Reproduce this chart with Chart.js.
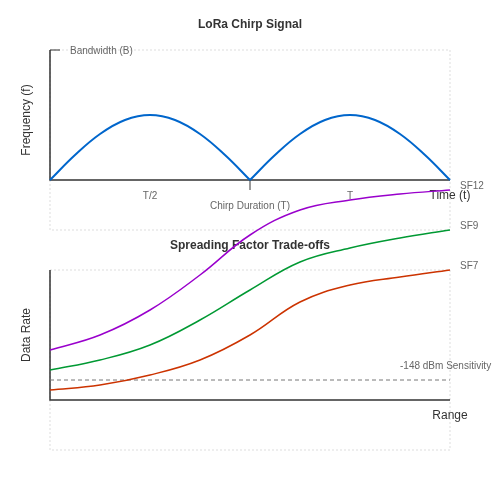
<!DOCTYPE html>
<html>
<head>
<script src="https://cdn.jsdelivr.net/npm/chart.js@4"></script>
<style>
  body { margin: 0; background: #fff; }
  .wrap { position: absolute; left: 0; top: 0; width: 500px; height: 500px; }
</style>
</head>
<body>
<div class="wrap"><canvas id="chirp"></canvas></div>
<div class="wrap"><canvas id="sf"></canvas></div>
<script>
// Top panel: chirp frequency over time (time in units of T)
const chirpTime = [0, 0.0625, 0.125, 0.1875, 0.25, 0.3125, 0.375, 0.4375, 0.5];
const chirpFreq = [0, 25, 46, 60, 65, 60, 46, 25, 0];

// Bottom panel: data rate vs range per spreading factor
const rangeX = [0, 1.25, 2.5, 3.75, 5, 6.25, 7.5, 8.75, 10];
const sf12Rate = [50, 65, 90, 125, 165, 190, 200, 206, 210];
const sf9Rate = [30, 40, 55, 80, 110, 138, 152, 162, 170];
const sf7Rate = [10, 15, 25, 40, 65, 98, 115, 123, 130];
const sensitivity = 20;

const FONT = "'Liberation Sans', Arial, sans-serif";
const GREY = "#666";

function text(ctx, s, x, y, opts = {}) {
    ctx.save();
    ctx.font = opts.font || ("11px " + FONT);
    ctx.fillStyle = opts.color || GREY;
    ctx.textAlign = opts.align || "center";
    ctx.textBaseline = "middle";
    if (opts.rotate) {
        ctx.translate(x, y);
        ctx.rotate(opts.rotate);
        ctx.fillText(s, 0, 0);
    } else {
        ctx.fillText(s, x, y);
    }
    ctx.restore();
}

function frame(chart) {
    const { ctx, chartArea: a, scales } = chart;
    const y0 = scales.y.getPixelForValue(0);
    ctx.save();
    ctx.strokeStyle = "#ddd";
    ctx.setLineDash([2, 2]);
    ctx.lineWidth = 1;
    ctx.strokeRect(a.left, a.top, a.right - a.left, a.bottom - a.top);
    ctx.setLineDash([]);
    ctx.strokeStyle = "#333";
    ctx.lineWidth = 1.5;
    ctx.beginPath();
    ctx.moveTo(a.left, a.top);
    ctx.lineTo(a.left, y0);
    ctx.lineTo(a.right, y0);
    ctx.stroke();
    ctx.restore();
    return y0;
}

const chirpPlugin = {
    id: "chirpDecor",
    beforeDatasetsDraw(chart) {
        const { ctx, chartArea: a, scales } = chart;
        const y0 = frame(chart);
        ctx.save();
        ctx.strokeStyle = "#333";
        ctx.beginPath();
        ctx.moveTo(a.left, a.top); ctx.lineTo(a.left + 10, a.top);
        const xm = scales.x.getPixelForValue(0.5);
        ctx.moveTo(xm, y0); ctx.lineTo(xm, y0 + 10);
        ctx.stroke();
        ctx.restore();
        text(ctx, "LoRa Chirp Signal", 250, 25, { font: "bold 12px " + FONT, color: "#333" });
        text(ctx, "Bandwidth (B)", a.left + 20, a.top + 1, { align: "left", font: "10px " + FONT });
        text(ctx, "T/2", scales.x.getPixelForValue(0.25), y0 + 16, { font: "10px " + FONT });
        text(ctx, "T", scales.x.getPixelForValue(0.75), y0 + 16, { font: "10px " + FONT });
        text(ctx, "Chirp Duration (T)", xm, y0 + 26, { font: "10px " + FONT });
        text(ctx, "Time (t)", a.right, y0 + 16, { font: "12px " + FONT, color: "#333" });
        text(ctx, "Frequency (f)", 27, 120, { font: "12px " + FONT, color: "#333", rotate: -Math.PI / 2 });
    }
};

const sfPlugin = {
    id: "sfDecor",
    beforeDatasetsDraw(chart) {
        const { ctx, chartArea: a, scales } = chart;
        const y0 = frame(chart);
        const ys = scales.y.getPixelForValue(sensitivity);
        ctx.save();
        ctx.strokeStyle = "#777";
        ctx.setLineDash([4, 3]);
        ctx.beginPath();
        ctx.moveTo(a.left, ys); ctx.lineTo(a.right, ys);
        ctx.stroke();
        ctx.restore();
        text(ctx, "Spreading Factor Trade-offs", 250, 246, { font: "bold 12px " + FONT, color: "#333" });
        text(ctx, "-148 dBm Sensitivity", a.right - 50, ys - 14, { align: "left", font: "10px " + FONT });
        text(ctx, "Range", a.right, y0 + 16, { font: "12px " + FONT, color: "#333" });
        text(ctx, "Data Rate", 27, 335, { font: "12px " + FONT, color: "#333", rotate: -Math.PI / 2 });
        const xr = scales.x.getPixelForValue(10) + 10;
        text(ctx, "SF12", xr, scales.y.getPixelForValue(sf12Rate[8]) - 4, { align: "left", font: "10px " + FONT });
        text(ctx, "SF9", xr, scales.y.getPixelForValue(sf9Rate[8]) - 4, { align: "left", font: "10px " + FONT });
        text(ctx, "SF7", xr, scales.y.getPixelForValue(sf7Rate[8]) - 4, { align: "left", font: "10px " + FONT });
    }
};

const baseOptions = (padTop, padBottom, xMax) => ({
    responsive: false,
    animation: false,
    layout: { padding: { left: 50, right: 50, top: padTop, bottom: padBottom } },
    plugins: { legend: { display: false }, tooltip: { enabled: false } },
    elements: { point: { radius: 0 } },
    scales: {
        x: { type: "linear", min: 0, max: xMax, display: false },
        y: { type: "linear", min: -50, max: 130, display: false }
    }
});

function line(xs, ys, color) {
    return {
        data: xs.map((x, i) => ({ x: x, y: ys[i] })),
        borderColor: color, borderWidth: 1.5, tension: 0.4, fill: false, clip: false
    };
}

for (const id of ["chirp", "sf"]) {
    const c = document.getElementById(id);
    c.width = 500; c.height = 500;
}

new Chart(document.getElementById("chirp"), {
    type: "scatter",
    data: {
        datasets: [
            Object.assign(line(chirpTime, chirpFreq, "#0066cc"), { showLine: true, borderWidth: 2 }),
            Object.assign(line(chirpTime.map(t => t + 0.5), chirpFreq, "#0066cc"), { showLine: true, borderWidth: 2 })
        ]
    },
    options: baseOptions(50, 270, 1),
    plugins: [chirpPlugin]
});

new Chart(document.getElementById("sf"), {
    type: "scatter",
    data: {
        datasets: [
            Object.assign(line(rangeX, sf12Rate, "#9900cc"), { showLine: true }),
            Object.assign(line(rangeX, sf9Rate, "#009933"), { showLine: true }),
            Object.assign(line(rangeX, sf7Rate, "#cc3300"), { showLine: true })
        ]
    },
    options: baseOptions(270, 50, 10),
    plugins: [sfPlugin]
});
</script>
</body>
</html>
